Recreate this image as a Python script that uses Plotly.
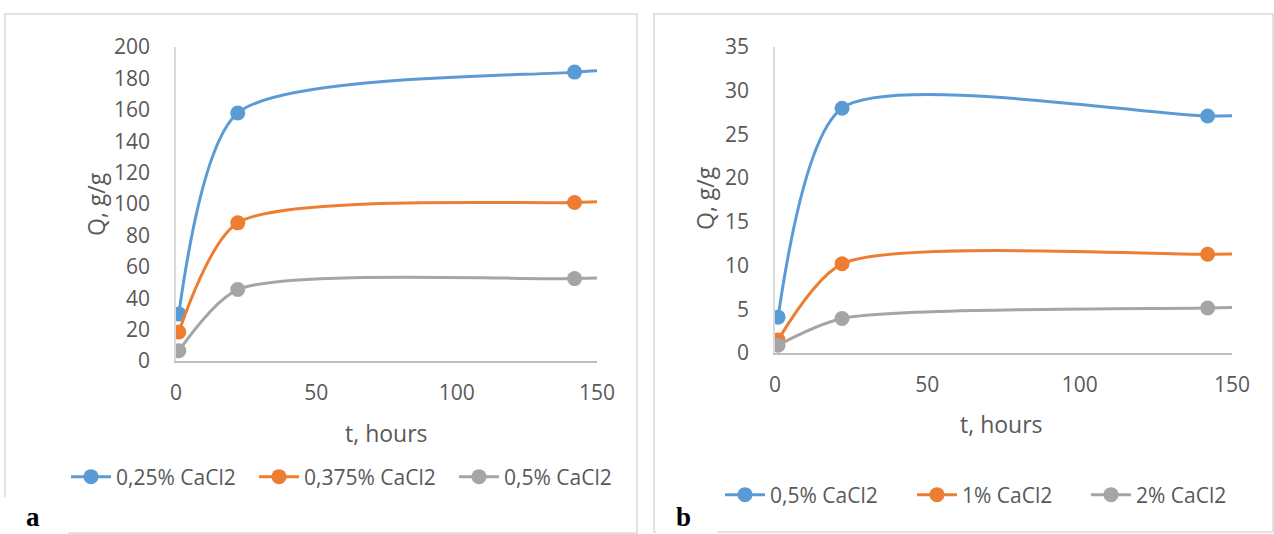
import plotly.graph_objects as go

W, H = 1274, 534

# ---- data ----
t_hours = [1, 22, 142, 166]

a_names = ["0,25% CaCl2", "0,375% CaCl2", "0,5% CaCl2"]
a_q_025 = [30, 158, 184, 186]
a_q_0375 = [18.5, 88, 101, 102]
a_q_05 = [6.5, 45.5, 52.5, 53.5]

b_names = ["0,5% CaCl2", "1% CaCl2", "2% CaCl2"]
b_q_05 = [4.1, 28.0, 27.1, 27.25]
b_q_1 = [1.5, 10.2, 11.3, 11.35]
b_q_2 = [0.9, 3.95, 5.15, 5.25]

colors = ["#5B9BD5", "#ED7D31", "#A5A5A5"]

FONT = "Open Sans"
TXT = "#595959"
SMOOTH = 0.7


def px_x(p):
    return p / W


def px_y(p):
    return 1 - p / H


fig = go.Figure()

# legend text start positions (px) for each item
a_leg_x = [116, 304, 504]
b_leg_x = [770, 962, 1136]
a_leg_y = 477
b_leg_y = 495
LEG_TEXT_OFFSET = 50

legend_defs = {}
k = 1
for name, ys, c, lx in zip(a_names, [a_q_025, a_q_0375, a_q_05], colors, a_leg_x):
    lid = "legend" if k == 1 else f"legend{k}"
    legend_defs[lid] = (lx, a_leg_y)
    fig.add_trace(go.Scatter(
        x=t_hours, y=ys, name=name, mode="lines+markers",
        line=dict(color=c, width=3, shape="spline", smoothing=SMOOTH),
        marker=dict(color=c, size=15),
        xaxis="x", yaxis="y", legend=lid))
    k += 1

for name, ys, c, lx in zip(b_names, [b_q_05, b_q_1, b_q_2], colors, b_leg_x):
    lid = f"legend{k}"
    legend_defs[lid] = (lx, b_leg_y)
    fig.add_trace(go.Scatter(
        x=t_hours, y=ys, name=name, mode="lines+markers",
        line=dict(color=c, width=3, shape="spline", smoothing=SMOOTH),
        marker=dict(color=c, size=15),
        xaxis="x2", yaxis="y2", legend=lid))
    k += 1

axis_common = dict(
    showgrid=False, zeroline=False, showline=True, automargin=False,
    tickfont=dict(family=FONT, size=21, color=TXT),
    ticks="outside", tickcolor="rgba(0,0,0,0)", fixedrange=True,
)

layout = dict(
    width=W, height=H,
    margin=dict(l=0, r=0, t=0, b=0, autoexpand=False),
    paper_bgcolor="white", plot_bgcolor="white",
    font=dict(family=FONT, color=TXT),
    xaxis=dict(domain=[px_x(176), px_x(597)], range=[0, 150], dtick=50,
               linecolor="#BFBFBF", linewidth=2, ticklen=12, anchor="y",
               **axis_common),
    yaxis=dict(domain=[px_y(361), px_y(47)], range=[0, 200], dtick=20,
               linecolor="#D9D9D9", linewidth=1.5, ticklen=20, anchor="x",
               **axis_common),
    xaxis2=dict(domain=[px_x(775), px_x(1232)], range=[0, 150], dtick=50,
                linecolor="#BFBFBF", linewidth=2, ticklen=12, anchor="y2",
                **axis_common),
    yaxis2=dict(domain=[px_y(353), px_y(47)], range=[0, 35], dtick=5,
                linecolor="#D9D9D9", linewidth=1.5, ticklen=20, anchor="x2",
                **axis_common),
    showlegend=True,
)
for lid, (lx, ly) in legend_defs.items():
    layout[lid] = dict(orientation="h", x=px_x(lx - LEG_TEXT_OFFSET), y=px_y(ly),
                       xanchor="left", yanchor="middle",
                       font=dict(family=FONT, size=21, color=TXT),
                       bgcolor="rgba(0,0,0,0)", itemwidth=40)
fig.update_layout(**layout)

# panel borders
for x0, x1, y1, y0 in [(5, 637, 14, 533), (654, 1273, 14, 532)]:
    fig.add_shape(type="rect", xref="paper", yref="paper",
                  x0=px_x(x0), x1=px_x(x1), y0=px_y(y0), y1=px_y(y1),
                  line=dict(color="#D9D9D9", width=1.5), fillcolor="rgba(0,0,0,0)",
                  layer="below")

# white patches where the panel letters sit over the frame
for x0, x1, y0, y1 in [(0, 68, 497, 534), (656, 717, 505, 534)]:
    fig.add_shape(type="rect", xref="paper", yref="paper",
                  x0=px_x(x0), x1=px_x(x1), y0=px_y(y1), y1=px_y(y0),
                  line=dict(width=0), fillcolor="white", layer="below")

# axis titles
for x, y, txt, ang in [(386, 433, "t, hours", 0), (96, 204, "Q, g/g", -90),
                       (1001, 424, "t, hours", 0), (705, 198, "Q, g/g", -90)]:
    fig.add_annotation(x=px_x(x), y=px_y(y), xref="paper", yref="paper",
                       text=txt, showarrow=False, textangle=ang,
                       font=dict(family=FONT, size=23, color=TXT),
                       xanchor="center", yanchor="middle")

# panel letters
for x, txt in [(33, "a"), (683, "b")]:
    fig.add_annotation(x=px_x(x), y=px_y(533), xref="paper", yref="paper",
                       text="<b>" + txt + "</b>", showarrow=False,
                       font=dict(family="Liberation Serif", size=27, color="black"),
                       xanchor="center", yanchor="bottom", borderpad=0)

fig.write_html("out.html",
               config={"displayModeBar": False},
               post_script="document.body.style.margin='0';"
                           "document.body.style.overflow='hidden';")
